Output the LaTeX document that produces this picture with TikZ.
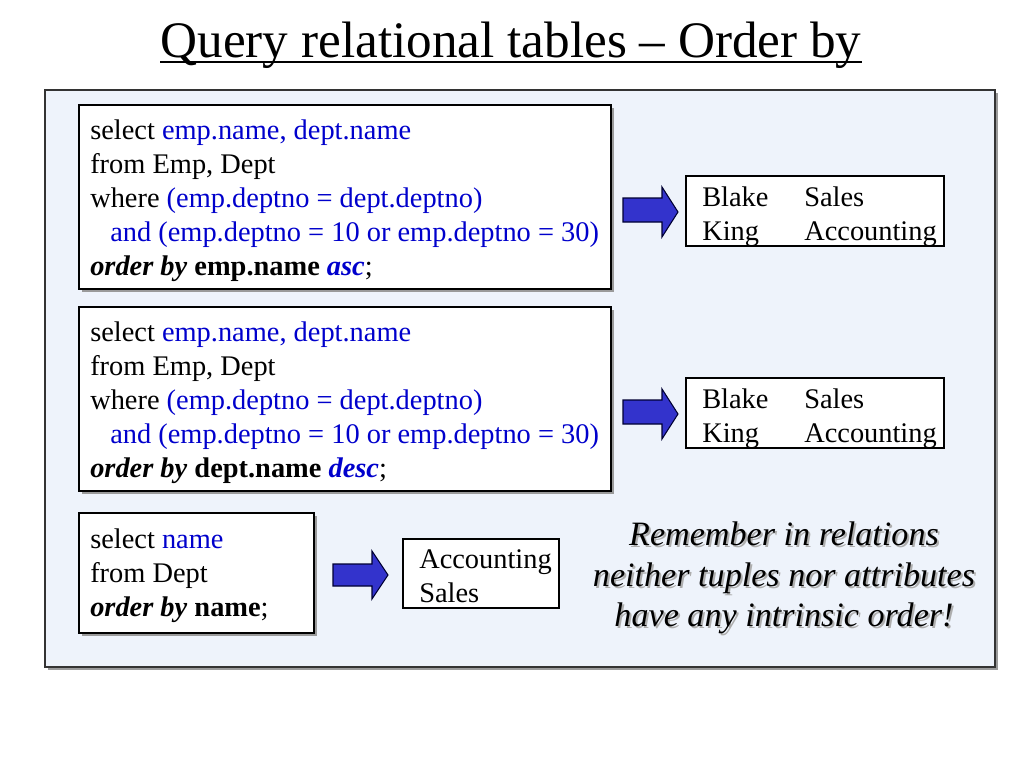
\documentclass[tikz,border=0pt]{standalone}
\usepackage{fontspec}
\setmainfont{Liberation Serif}
\definecolor{panelbg}{HTML}{EEF3FB}
\definecolor{qblue}{HTML}{0000CC}
\definecolor{arrowblue}{HTML}{3333CC}
\definecolor{shadowgrey}{HTML}{9A9A9A}
\begin{document}
\begin{tikzpicture}[x=0.75pt,y=-0.75pt,
  body/.style={font=\fontsize{21.3}{25.5}\selectfont, inner sep=0pt, anchor=base west},
  qbox/.style={draw=black, line width=0.9pt, fill=white},
  boxshadow/.style={fill=shadowgrey, draw=none},
  blockarrow/.style={fill=arrowblue, draw=black!80!blue, line width=0.8pt, line join=miter},
  note/.style={font=\fontsize{25.6}{30}\selectfont\itshape, inner sep=0pt, anchor=base}
]
\useasboundingbox (0,0) rectangle (1024,768);
\fill[white] (0,0) rectangle (1024,768);

% title
\node[font=\fontsize{38.4}{42}\selectfont, inner sep=0pt, anchor=base] (title) at (511,57) {Query relational tables -- Order by};
\draw[line width=1.4pt] (title.west |- 0,62) -- (title.east |- 0,62);

% panel
\fill[shadowgrey] (48,93) rectangle (998,670);
\draw[fill=panelbg, draw=black!80, line width=1pt] (45,90) rectangle (995,667);

% box 1
\fill[boxshadow] (82,108) rectangle (614,292);
\draw[qbox] (79,105) rectangle (611,289);
\node[body] (q1a) at (90,139) {select \textcolor{qblue}{emp.name, dept.name}};
\node[body] (q1b) at (90,173) {from Emp, Dept};
\node[body] (q1c) at (90,207) {where \textcolor{qblue}{(emp.deptno = dept.deptno)}};
\node[body] (q1d) at (110,241) {\textcolor{qblue}{and (emp.deptno = 10 or emp.deptno = 30)}};
\node[body] (q1e) at (90,275) {\textbf{\textit{order by}} \textbf{emp.name} \textcolor{qblue}{\textbf{\textit{asc}}};};

% box 2
\fill[boxshadow] (82,310) rectangle (614,494);
\draw[qbox] (79,307) rectangle (611,491);
\node[body] (q2a) at (90,341) {select \textcolor{qblue}{emp.name, dept.name}};
\node[body] (q2b) at (90,375) {from Emp, Dept};
\node[body] (q2c) at (90,409) {where \textcolor{qblue}{(emp.deptno = dept.deptno)}};
\node[body] (q2d) at (110,443) {\textcolor{qblue}{and (emp.deptno = 10 or emp.deptno = 30)}};
\node[body] (q2e) at (90,477) {\textbf{\textit{order by}} \textbf{dept.name} \textcolor{qblue}{\textbf{\textit{desc}}};};

% box 3
\fill[boxshadow] (82,516) rectangle (317,636);
\draw[qbox] (79,513) rectangle (314,633);
\node[body] (q3a) at (90,548) {select \textcolor{qblue}{name}};
\node[body] (q3b) at (90,582) {from Dept};
\node[body] (q3c) at (90,616) {\textbf{\textit{order by}} \textbf{name};};

% result boxes
\draw[qbox] (686,176) rectangle (944,246);
\node[body] (r1a) at (702,206) {Blake};
\node[body] (r1b) at (804,206) {Sales};
\node[body] (r1c) at (702,240) {King};
\node[body] (r1d) at (804,240) {Accounting};

\draw[qbox] (686,378) rectangle (944,448);
\node[body] (r2a) at (702,408) {Blake};
\node[body] (r2b) at (804,408) {Sales};
\node[body] (r2c) at (702,442) {King};
\node[body] (r2d) at (804,442) {Accounting};

\draw[qbox] (403,539) rectangle (559,608);
\node[body] (r3a) at (419,568) {Accounting};
\node[body] (r3b) at (419,602) {Sales};

% block arrows
\draw[blockarrow] (623,198) -- (662,198) -- (662,187) -- (678,212) -- (662,237) -- (662,222) -- (623,222) -- cycle;
\draw[blockarrow] (623,400) -- (662,400) -- (662,389) -- (678,414) -- (662,439) -- (662,424) -- (623,424) -- cycle;
\draw[blockarrow] (333,564) -- (372,564) -- (372,551) -- (388,575) -- (372,599) -- (372,586) -- (333,586) -- cycle;

% note with shadow
\foreach \t/\yy [count=\i] in {Remember in relations/545, neither tuples nor attributes/586, have any intrinsic order!/626}{
  \node[note, text=shadowgrey!80] at (786,\yy+2) {\t};
  \node[note] (note\i) at (784,\yy) {\t};
}
\end{tikzpicture}
\end{document}
